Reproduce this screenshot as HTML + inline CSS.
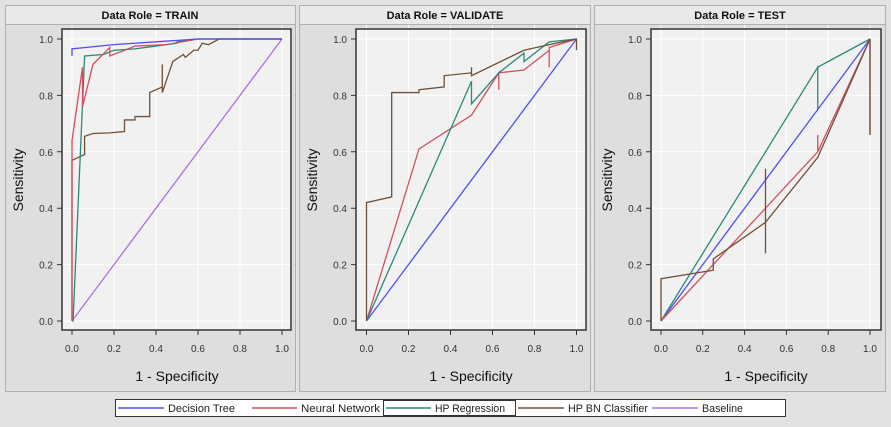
<!DOCTYPE html>
<html><head><style>body{margin:0;background:#e2e2e2}svg{display:block;font-family:"Liberation Sans",sans-serif}</style></head><body>
<svg width="891" height="427" xmlns="http://www.w3.org/2000/svg">
<defs>
<g id="grid">
<rect x="0" y="0" width="1" height="1" fill="#f1f1f1"/>
<g stroke="#ffffff" stroke-width="1" vector-effect="non-scaling-stroke">
<line x1="0.2" y1="-0.05" x2="0.2" y2="1.05" vector-effect="non-scaling-stroke"/>
<line x1="0.4" y1="-0.05" x2="0.4" y2="1.05" vector-effect="non-scaling-stroke"/>
<line x1="0.6" y1="-0.05" x2="0.6" y2="1.05" vector-effect="non-scaling-stroke"/>
<line x1="0.8" y1="-0.05" x2="0.8" y2="1.05" vector-effect="non-scaling-stroke"/>
<line x1="0" y1="-0.05" x2="0" y2="1.05" vector-effect="non-scaling-stroke"/>
<line x1="1" y1="-0.05" x2="1" y2="1.05" vector-effect="non-scaling-stroke"/>
<line x1="-0.05" y1="0.2" x2="1.04" y2="0.2" vector-effect="non-scaling-stroke"/>
<line x1="-0.05" y1="0.4" x2="1.04" y2="0.4" vector-effect="non-scaling-stroke"/>
<line x1="-0.05" y1="0.6" x2="1.04" y2="0.6" vector-effect="non-scaling-stroke"/>
<line x1="-0.05" y1="0.8" x2="1.04" y2="0.8" vector-effect="non-scaling-stroke"/>
<line x1="-0.05" y1="0" x2="1.04" y2="0" vector-effect="non-scaling-stroke"/>
<line x1="-0.05" y1="1" x2="1.04" y2="1" vector-effect="non-scaling-stroke"/>
</g></g>
</defs>
<rect width="891" height="427" fill="#e2e2e2"/>

<g fill="#dedede" stroke="#b0b0b0">
<rect x="5.5" y="5.5" width="290" height="386"/>
<rect x="299.5" y="5.5" width="291" height="386"/>
<rect x="594.5" y="5.5" width="291" height="386"/>
</g>
<g fill="#e9e9e9" stroke="#b0b0b0">
<rect x="5.5" y="5.5" width="290" height="19"/>
<rect x="299.5" y="5.5" width="291" height="19"/>
<rect x="594.5" y="5.5" width="291" height="19"/>
</g>
<g font-size="11" font-weight="bold" fill="#111" text-anchor="middle">
<text x="150" y="19">Data Role = TRAIN</text>
<text x="445" y="19">Data Role = VALIDATE</text>
<text x="740" y="19">Data Role = TEST</text>
</g>

<g>
<rect x="62" y="29" width="229" height="301" fill="#f1f1f1"/>
<rect x="356" y="29" width="230" height="301" fill="#f1f1f1"/>
<rect x="651" y="29" width="230" height="301" fill="#f1f1f1"/>
</g>

<g transform="translate(72,321) scale(210,-282)" fill="none" stroke-width="1.3">
<use href="#grid"/>
<polyline vector-effect="non-scaling-stroke" stroke="#b070e0" points="0,0 1,1"/>
<polyline vector-effect="non-scaling-stroke" stroke="#705038" points="0,0 0,0.57 0.06,0.59 0.06,0.655 0.1,0.665 0.18,0.667 0.25,0.672 0.25,0.713 0.3,0.713 0.3,0.725 0.37,0.725 0.37,0.81 0.43,0.83 0.43,0.91 0.43,0.81 0.48,0.92 0.53,0.945 0.54,0.935 0.58,0.96 0.6,0.96 0.62,0.985 0.65,0.98 0.7,1 1,1"/>
<polyline vector-effect="non-scaling-stroke" stroke="#2a8a78" points="0,0 0.005,0 0.06,0.94 0.15,0.945 0.2,0.96 0.3,0.965 0.4,0.975 0.5,0.985 0.5,0.99 0.6,1 1,1"/>
<polyline vector-effect="non-scaling-stroke" stroke="#d05060" points="0,0 0,0.64 0.05,0.9 0.05,0.76 0.1,0.91 0.18,0.97 0.18,0.94 0.25,0.96 0.3,0.975 0.45,0.98 0.6,1 1,1"/>
<polyline vector-effect="non-scaling-stroke" stroke="#5050f0" points="0,0.94 0,0.965 0.2,0.98 0.4,0.99 0.6,1 1,1"/>
</g>

<g transform="translate(366.5,321) scale(210,-282)" fill="none" stroke-width="1.3">
<use href="#grid"/>
<polyline vector-effect="non-scaling-stroke" stroke="#5050f0" points="0,0 1,1"/>
<polyline vector-effect="non-scaling-stroke" stroke="#d05060" points="0,0 0.25,0.61 0.5,0.73 0.63,0.88 0.63,0.82 0.63,0.88 0.75,0.89 0.87,0.96 0.87,0.9 0.87,0.97 1,1"/>
<polyline vector-effect="non-scaling-stroke" stroke="#2a8a78" points="0,0 0.5,0.85 0.5,0.77 0.63,0.88 0.75,0.95 0.75,0.92 0.87,0.99 1,1"/>
<polyline vector-effect="non-scaling-stroke" stroke="#705038" points="0,0 0,0.42 0.12,0.44 0.12,0.81 0.25,0.81 0.25,0.82 0.37,0.83 0.37,0.87 0.5,0.88 0.5,0.9 0.5,0.87 0.75,0.96 0.87,0.98 1,1 1,0.96"/>
</g>

<g transform="translate(661,321) scale(209,-282)" fill="none" stroke-width="1.3">
<use href="#grid"/>
<polyline vector-effect="non-scaling-stroke" stroke="#5050f0" points="0,0 1,1"/>
<polyline vector-effect="non-scaling-stroke" stroke="#2a8a78" points="0,0 0.75,0.9 0.75,0.75 0.75,0.9 1,1"/>
<polyline vector-effect="non-scaling-stroke" stroke="#d05060" points="0,0 0.25,0.2 0.5,0.4 0.75,0.6 0.75,0.66 0.75,0.6 1,1 1,0.66"/>
<polyline vector-effect="non-scaling-stroke" stroke="#705038" points="0,0 0,0.15 0.25,0.18 0.25,0.22 0.5,0.35 0.5,0.24 0.5,0.54 0.5,0.35 0.75,0.58 1,1 1,0.66"/>
</g>

<g fill="none" stroke="#333" stroke-width="1.5">
<rect x="62" y="29" width="229" height="301"/>
<rect x="356" y="29" width="230" height="301"/>
<rect x="651" y="29" width="230" height="301"/>
</g>
<g stroke="#333" stroke-width="1">
<path d="M72,330v5M114,330v5M156,330v5M198,330v5M240,330v5M282,330v5 M57,321h5M57,264.6h5M57,208.2h5M57,151.8h5M57,95.4h5M57,39h5"/>
<path d="M366.5,330v5M408.5,330v5M450.5,330v5M492.5,330v5M534.5,330v5M576.5,330v5 M351,321h5M351,264.6h5M351,208.2h5M351,151.8h5M351,95.4h5M351,39h5"/>
<path d="M661,330v5M702.8,330v5M744.6,330v5M786.4,330v5M828.2,330v5M870,330v5 M646,321h5M646,264.6h5M646,208.2h5M646,151.8h5M646,95.4h5M646,39h5"/>
</g>
<g font-size="10" fill="#333" text-anchor="middle">
<text x="72" y="352">0.0</text><text x="114" y="352">0.2</text><text x="156" y="352">0.4</text><text x="198" y="352">0.6</text><text x="240" y="352">0.8</text><text x="282" y="352">1.0</text>
<text x="366.5" y="352">0.0</text><text x="408.5" y="352">0.2</text><text x="450.5" y="352">0.4</text><text x="492.5" y="352">0.6</text><text x="534.5" y="352">0.8</text><text x="576.5" y="352">1.0</text>
<text x="661" y="352">0.0</text><text x="702.8" y="352">0.2</text><text x="744.6" y="352">0.4</text><text x="786.4" y="352">0.6</text><text x="828.2" y="352">0.8</text><text x="870" y="352">1.0</text>
</g>
<g font-size="10" fill="#333" text-anchor="end">
<text x="53" y="325">0.0</text><text x="53" y="268.6">0.2</text><text x="53" y="212.2">0.4</text><text x="53" y="155.8">0.6</text><text x="53" y="99.4">0.8</text><text x="53" y="43">1.0</text>
<text x="347" y="325">0.0</text><text x="347" y="268.6">0.2</text><text x="347" y="212.2">0.4</text><text x="347" y="155.8">0.6</text><text x="347" y="99.4">0.8</text><text x="347" y="43">1.0</text>
<text x="642" y="325">0.0</text><text x="642" y="268.6">0.2</text><text x="642" y="212.2">0.4</text><text x="642" y="155.8">0.6</text><text x="642" y="99.4">0.8</text><text x="642" y="43">1.0</text>
</g>
<g font-size="14" fill="#111" text-anchor="middle">
<text x="177" y="381">1 - Specificity</text>
<text x="471" y="381">1 - Specificity</text>
<text x="766" y="381">1 - Specificity</text>
<text transform="translate(23,180) rotate(-90)">Sensitivity</text>
<text transform="translate(317,180) rotate(-90)">Sensitivity</text>
<text transform="translate(612,180) rotate(-90)">Sensitivity</text>
</g>

<rect x="115.5" y="399.5" width="670" height="17" fill="#fff" stroke="#333"/>
<rect x="383.5" y="400.5" width="132" height="15" fill="none" stroke="#333"/>
<g stroke-width="1.5">
<line x1="118" y1="408" x2="164" y2="408" stroke="#5050f0"/>
<line x1="252" y1="408" x2="297" y2="408" stroke="#d05060"/>
<line x1="386" y1="408" x2="431" y2="408" stroke="#2a8a78"/>
<line x1="518" y1="408" x2="564" y2="408" stroke="#705038"/>
<line x1="652" y1="408" x2="698" y2="408" stroke="#b070e0"/>
</g>
<g font-size="11" fill="#222">
<text x="168" y="412" textLength="67" lengthAdjust="spacingAndGlyphs">Decision Tree</text>
<text x="301" y="412" textLength="79" lengthAdjust="spacingAndGlyphs">Neural Network</text>
<text x="435" y="412" textLength="70" lengthAdjust="spacingAndGlyphs">HP Regression</text>
<text x="568" y="412" textLength="80" lengthAdjust="spacingAndGlyphs">HP BN Classifier</text>
<text x="702" y="412" textLength="41" lengthAdjust="spacingAndGlyphs">Baseline</text>
</g>
</svg>
</body></html>
